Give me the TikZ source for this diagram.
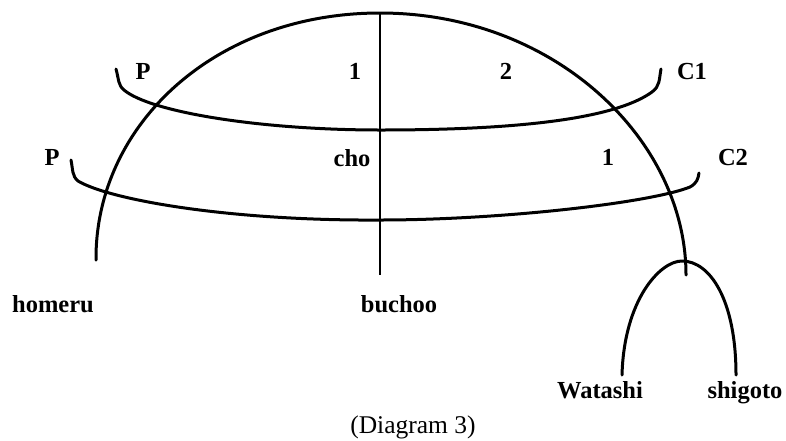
\documentclass[tikz,border=0pt]{standalone}
\usepackage{fontspec}
\setmainfont{Liberation Serif}
\begin{document}
\begin{tikzpicture}[x=1pt,y=-1pt,
  curve/.style={line width=3pt,line cap=round,line join=round},
  lbl/.style={font=\fontsize{24.5}{29}\selectfont\bfseries,anchor=base,inner sep=0pt},
  captext/.style={font=\fontsize{25.5}{30}\selectfont,anchor=base,inner sep=0pt}]
\useasboundingbox (0,0) rectangle (786,440);
% coordinates
\coordinate (top) at (380,13);
\coordinate (lend) at (96,260);
\coordinate (rend) at (686,275);
\coordinate (vbot) at (380,275);
% big arc
\draw[curve] (lend) .. controls (95,125) and (215,13) .. (top)
  .. controls (555,13) and (686,140) .. (rend);
% vertical line
\draw[line width=2.6pt] (top) -- (vbot);
% upper bracket
\draw[curve] (116,69) .. controls (119,80) and (118,85) .. (124,90)
  .. controls (150,112) and (260,130) .. (380,130)
  .. controls (540,130) and (620,115) .. (652,92)
  .. controls (660,86) and (659,80) .. (661,69);
% lower bracket
\draw[curve] (71,160) .. controls (73,170) and (72,176) .. (78,181)
  .. controls (110,200) and (230,221) .. (380,220)
  .. controls (500,220) and (650,203) .. (690,187)
  .. controls (697,183) and (698,179) .. (699,173);
% small arch
\coordinate (wfoot) at (622,375);
\coordinate (sfoot) at (736,375);
\coordinate (atop) at (682,261);
\draw[curve] (wfoot) .. controls (624,300) and (660,261) .. (atop)
  .. controls (710,261) and (736,300) .. (sfoot);
% labels
\node[lbl] (p1) at (143,79) {P};
\node[lbl] (one1) at (355,79) {1};
\node[lbl] (two) at (506,79) {2};
\node[lbl] (c1) at (692,79) {C1};
\node[lbl] (p2) at (52,165) {P};
\node[lbl] (cho) at (352,166) {cho};
\node[lbl] (one2) at (608,165) {1};
\node[lbl] (c2) at (733,165) {C2};
\node[lbl] (homeru) at (53,312) {homeru};
\node[lbl] (buchoo) at (399,312) {buchoo};
\node[lbl] (watashi) at (600,398) {Watashi};
\node[lbl] (shigoto) at (745,398) {shigoto};
\node[captext] (caption) at (413,433) {(Diagram 3)};
\end{tikzpicture}
\end{document}
